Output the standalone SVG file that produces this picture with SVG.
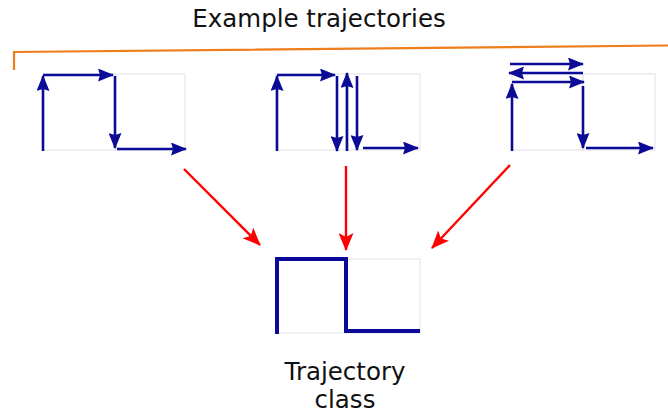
<svg xmlns="http://www.w3.org/2000/svg" width="668" height="413" viewBox="0 0 668 413">
  <defs>
    <marker id="blueHead" markerWidth="16" markerHeight="13" refX="15" refY="6.5" orient="auto" markerUnits="userSpaceOnUse">
      <path d="M0,0 L16,6.5 L0,13 L2,6.5 Z" fill="#0b0b98"/>
    </marker>
    <marker id="redHead" markerWidth="18" markerHeight="15" refX="17" refY="7.5" orient="auto" markerUnits="userSpaceOnUse">
      <path d="M0,0 L18,7.5 L0,15 L4,7.5 Z" fill="#ff0000"/>
    </marker>
  </defs>
  <style>
    .label { font-family: "DejaVu Sans", Verdana, sans-serif; font-size: 24.5px; fill: #111111; text-anchor: middle; }
    .grid { fill: none; stroke: #e6e6ea; stroke-width: 1.2; }
    .step { fill: none; stroke: #0b0b98; stroke-width: 2.6; marker-end: url(#blueHead); }
    .flow { fill: none; stroke: #ff0000; stroke-width: 2.4; marker-end: url(#redHead); }
    .brace { fill: none; stroke: #ee7d1c; stroke-width: 2.2; }
    .cls { fill: none; stroke: #0b0b98; stroke-width: 4; stroke-linejoin: miter; }
  </style>

  <text class="label" x="319" y="27">Example trajectories</text>
  <polyline class="brace" points="14,70 14,52 668,45.5"/>

  <g id="example1">
    <rect class="grid" x="43" y="74" width="72" height="76"/>
    <rect class="grid" x="115" y="74" width="70" height="76"/>
    <line class="step" x1="43" y1="151" x2="43" y2="76"/>
    <line class="step" x1="43" y1="75" x2="113" y2="75"/>
    <line class="step" x1="115" y1="76" x2="115" y2="148"/>
    <line class="step" x1="117" y1="149" x2="186" y2="149"/>
  </g>

  <g id="example2">
    <rect class="grid" x="276" y="74" width="70" height="76"/>
    <rect class="grid" x="346" y="74" width="74" height="76"/>
    <line class="step" x1="277" y1="151" x2="277" y2="76"/>
    <line class="step" x1="277" y1="75" x2="335" y2="75"/>
    <line class="step" x1="337" y1="76" x2="337" y2="151"/>
    <line class="step" x1="347" y1="151" x2="347" y2="73"/>
    <line class="step" x1="357" y1="76" x2="357" y2="150"/>
    <line class="step" x1="363" y1="148" x2="418" y2="148"/>
  </g>

  <g id="example3">
    <rect class="grid" x="512" y="74" width="71" height="76"/>
    <rect class="grid" x="583" y="74" width="72" height="76"/>
    <line class="step" x1="510" y1="64" x2="583" y2="64"/>
    <line class="step" x1="583" y1="73" x2="509" y2="73"/>
    <line class="step" x1="512" y1="82" x2="584" y2="82"/>
    <line class="step" x1="512" y1="151" x2="512" y2="84"/>
    <line class="step" x1="583" y1="86" x2="583" y2="148"/>
    <line class="step" x1="586" y1="148" x2="653" y2="148"/>
  </g>

  <g id="connectors">
    <line class="flow" x1="184" y1="169" x2="260" y2="245"/>
    <line class="flow" x1="346" y1="166" x2="346" y2="250"/>
    <line class="flow" x1="510" y1="165" x2="432" y2="248"/>
  </g>

  <g id="trajectoryClass">
    <rect class="grid" x="277" y="259" width="69" height="74"/>
    <rect class="grid" x="346" y="259" width="74" height="74"/>
    <polyline class="cls" points="277,334 277,259 346,259 346,331 420,331"/>
    <text class="label" x="345" y="380">Trajectory</text>
    <text class="label" x="345" y="408">class</text>
  </g>
</svg>
